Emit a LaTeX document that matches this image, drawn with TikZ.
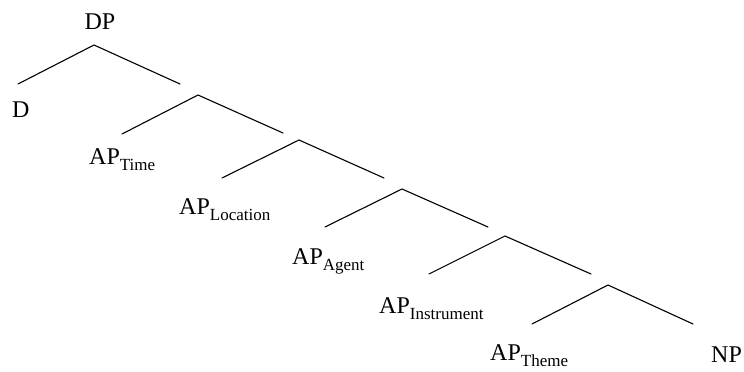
\documentclass[tikz,border=0pt]{standalone}
\usepackage{fontspec}
\setmainfont{Liberation Serif}

\newcommand{\catsub}[2]{#1\raisebox{-6pt}{\fontsize{17}{17}\selectfont #2}}

\tikzset{
  branch/.style={line width=1.1pt, line cap=round},
  catlabel/.style={anchor=base west, inner sep=0pt, font=\fontsize{24}{24}\selectfont}
}

\begin{document}
\begin{tikzpicture}[x=1pt, y=-1pt]
			\useasboundingbox (0,0) rectangle (744,372);
			
			% Vertici dei rami
			\coordinate (a1) at (94,45);
			\coordinate (a2) at (198,95);
			\coordinate (a3) at (299,140);
			\coordinate (a4) at (402,189);
			\coordinate (a5) at (505,236);
			\coordinate (a6) at (608,285);
			
			% Estremi sinistri
			\coordinate (l1) at (18,84);
			\coordinate (l2) at (122,134);
			\coordinate (l3) at (222,178);
			\coordinate (l4) at (325,227);
			\coordinate (l5) at (429,274);
			\coordinate (l6) at (532,324);
			
			% Estremi destri
			\coordinate (r1) at (180,84);
			\coordinate (r2) at (283,133);
			\coordinate (r3) at (384,178);
			\coordinate (r4) at (488,227);
			\coordinate (r5) at (591,274);
			\coordinate (r6) at (693,324);
			
			% Etichette
			\node[catlabel, anchor=base] (dp) at (100,29) {DP};
			\node[catlabel] (d) at (12,117) {D};
			\node[catlabel] (time) at (89,164) {\catsub{AP}{Time}};
			\node[catlabel] (location) at (179,214) {\catsub{AP}{Location}};
			\node[catlabel] (agent) at (292,264) {\catsub{AP}{Agent}};
			\node[catlabel] (instrument) at (379,313) {\catsub{AP}{Instrument}};
			\node[catlabel] (theme) at (490,360) {\catsub{AP}{Theme}};
			\node[catlabel] (np) at (711,362) {NP};
			
			% Rami
			\foreach \i in {1,...,6}
			\draw[branch] (l\i) -- (a\i) -- (r\i);
		\end{tikzpicture}
\end{document}
